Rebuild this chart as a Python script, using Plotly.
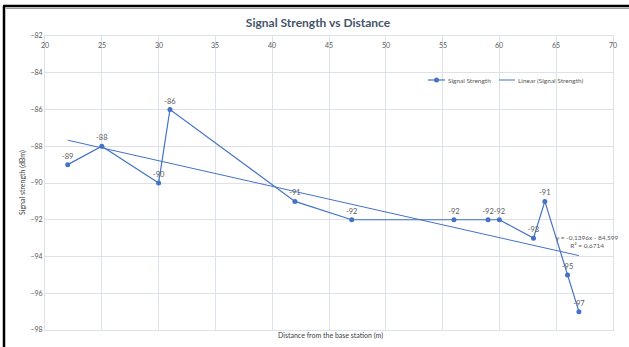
import numpy as np
import plotly.graph_objects as go

# ---- data ----
distance_m = [22, 25, 30, 31, 42, 47, 56, 59, 60, 63, 64, 66, 67]
signal_dbm = [-89, -88, -90, -86, -91, -92, -92, -92, -92, -93, -91, -95, -97]
x_ticks = [20, 25, 30, 35, 40, 45, 50, 55, 60, 65, 70]
y_ticks = [-82, -84, -86, -88, -90, -92, -94, -96, -98]
series_names = ["Signal Strength", "Linear (Signal Strength)"]

W, H = 629, 347
L, R, T, B = 45, 16, 36, 17
PW, PH = W - L - R, H - T - B

def px_x(p):
    return (p - L) / PW

def px_y(p):
    return (H - B - p) / PH

blue = "#4472C4"
grey_text = "#595959"
grid = "#DCE1EA"
font_fam = "Lato, 'Open Sans', sans-serif"

slope, intercept = np.polyfit(distance_m, signal_dbm, 1)
tx = [min(distance_m), max(distance_m)]
ty = [slope * v + intercept for v in tx]
ss_res = sum((y - (slope * x + intercept)) ** 2 for x, y in zip(distance_m, signal_dbm))
ym = np.mean(signal_dbm)
ss_tot = sum((y - ym) ** 2 for y in signal_dbm)
r2 = 1 - ss_res / ss_tot

def fmt(v, d):
    return f"{v:.{d}f}".replace(".", ",")

fig = go.Figure()
fig.add_trace(go.Scatter(
    x=distance_m, y=signal_dbm, mode="lines+markers+text",
    name=series_names[0],
    line=dict(color=blue, width=1.2),
    marker=dict(color=blue, size=5),
    text=[str(v) for v in signal_dbm], textposition="top center",
    textfont=dict(size=7.5, color=grey_text, family=font_fam),
    showlegend=False,
))
fig.add_trace(go.Scatter(
    x=tx, y=ty, mode="lines", name=series_names[1],
    line=dict(color=blue, width=1),
    showlegend=False,
))

annotations = [
    dict(text="Signal strength (dBm)", x=px_x(22), y=0.5, xref="paper", yref="paper",
         xanchor="center", yanchor="middle",
         textangle=-90, showarrow=False, font=dict(size=7, color="#404040")),
    dict(text="Distance from the base station (m)", x=px_x(330), y=px_y(335), xref="paper",
         yref="paper", xanchor="center", yanchor="middle",
         showarrow=False, font=dict(size=7, color="#404040")),
    dict(text=f"y = {fmt(slope, 4)}x - {fmt(-intercept, 3)}<br>R² = {fmt(r2, 4)}",
         x=px_x(587), y=px_y(241.5), xref="paper", yref="paper", showarrow=False,
         xanchor="center", yanchor="middle",
         align="center", font=dict(size=6.5, color=grey_text)),
    # custom legend texts
    dict(text=series_names[0], x=px_x(446), y=px_y(80), xref="paper", yref="paper",
         xanchor="left", yanchor="middle", showarrow=False,
         font=dict(size=6.5, color=grey_text)),
    dict(text=series_names[1], x=px_x(516), y=px_y(80), xref="paper", yref="paper",
         xanchor="left", yanchor="middle", showarrow=False,
         font=dict(size=6.5, color=grey_text)),
]
# x tick labels sit just below the top axis line
for t in x_ticks:
    annotations.append(dict(text=str(t), x=t, xref="x", y=px_y(45), yref="paper",
                            xanchor="center", yanchor="middle", showarrow=False,
                            font=dict(size=7, color=grey_text)))

shapes = [
    dict(type="line", xref="paper", yref="paper", x0=px_x(4), x1=px_x(4),
         y0=px_y(6), y1=px_y(H + 2), line=dict(color="black", width=2.5)),
    dict(type="line", xref="paper", yref="paper", x0=px_x(3), x1=px_x(W + 2),
         y0=px_y(6), y1=px_y(6), line=dict(color="black", width=2.5)),
    dict(type="line", xref="paper", yref="paper", x0=px_x(6), x1=px_x(W + 2),
         y0=px_y(8.5), y1=px_y(8.5), line=dict(color="#9A9A9A", width=1)),
    # custom legend symbols
    dict(type="line", xref="paper", yref="paper", x0=px_x(428), x1=px_x(445),
         y0=px_y(80), y1=px_y(80), line=dict(color=blue, width=1.2)),
    dict(type="circle", xref="paper", yref="paper", x0=px_x(434), x1=px_x(439),
         y0=px_y(82.5), y1=px_y(77.5), fillcolor=blue, line=dict(color=blue, width=0)),
    dict(type="line", xref="paper", yref="paper", x0=px_x(499), x1=px_x(515),
         y0=px_y(80), y1=px_y(80), line=dict(color=blue, width=1)),
]

fig.update_layout(
    width=W, height=H,
    margin=dict(l=L, r=R, t=T, b=B, autoexpand=False),
    paper_bgcolor="white", plot_bgcolor="white",
    font=dict(family=font_fam, color=grey_text, size=7),
    title=dict(text="<b>Signal Strength vs Distance</b>", x=px_x(318), xref="paper",
               xanchor="center", y=1 - 23 / H, yref="container", yanchor="middle",
               font=dict(size=12, color="#44546A", family=font_fam)),
    showlegend=False,
    hovermode=False,
    xaxis=dict(range=[20, 70], tickvals=x_ticks, showticklabels=False,
               showgrid=True, gridcolor=grid, gridwidth=1, zeroline=False,
               showline=True, linecolor=grid, mirror=True),
    yaxis=dict(range=[-98, -82], tickvals=y_ticks, showgrid=True, gridcolor=grid,
               zeroline=False, showline=True, linecolor=grid, mirror=True,
               ticks="", tickfont=dict(size=7, color=grey_text)),
    annotations=annotations,
    shapes=shapes,
)

fig.write_html("out.html", config={"displayModeBar": False, "staticPlot": True},
               post_script="document.body.style.margin='0';document.body.style.padding='0';")
